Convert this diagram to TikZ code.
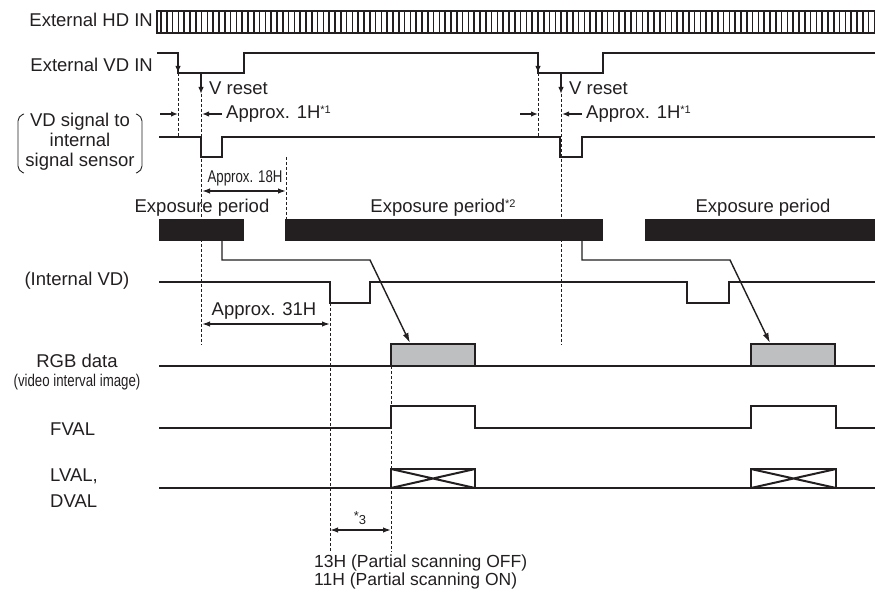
\documentclass[tikz,border=0pt]{standalone}
\usepackage{fontspec}
\setmainfont{Liberation Sans}
\newfontfamily\condfont[FakeStretch=0.78]{Liberation Sans}
\usetikzlibrary{arrows.meta}
\definecolor{ink}{HTML}{231F20}
\definecolor{boxgray}{HTML}{BEBFC1}
\begin{document}
\begin{tikzpicture}[x=1pt,y=-1pt,
  sig/.style={line width=2.6pt, draw=ink, line join=miter},
  guide/.style={draw=ink, line width=1pt, dash pattern=on 3pt off 2pt},
  dimarrow/.style={draw=ink, line width=1.5pt, {Latex[length=8pt,width=5.5pt]}-{Latex[length=8pt,width=5.5pt]}},
  onearrow/.style={draw=ink, line width=1.4pt, -{Latex[length=7pt,width=5.5pt]}},
  flow/.style={draw=ink, line width=1.4pt, -{Latex[length=10pt,width=6pt]}},
  lbl/.style={font=\fontsize{18.5}{21}\selectfont, inner sep=0pt, text=ink},
  cond/.style={font=\condfont\fontsize{17}{20}\selectfont, inner sep=0pt, text=ink},
  expbar/.style={fill=ink}
]
\useasboundingbox (0,0) rectangle (875,593);

% ---------- labels ----------
\node[lbl, anchor=east] (hdlbl) at (153,20) {External HD IN};
\node[lbl, anchor=east] (vdlbl) at (153,65) {External VD IN};
\node[lbl, align=center] (vdsig) at (80,142) {VD signal to\\[-1pt]internal\\[-1pt]signal sensor};
\node[lbl] (intvd) at (77,281) {(Internal VD)};
\node[lbl] (rgb) at (77,361) {RGB data};
\node[cond] (rgbsub) at (77,382) {(video interval image)};
\node[lbl, anchor=west] (fval) at (50,429) {FVAL};
\node[lbl, anchor=west] (lval) at (50,476) {LVAL,};
\node[lbl, anchor=west] (dval) at (50,501) {DVAL};

% brackets around VD signal label
\draw[ink, line width=0.9pt, rounded corners=5pt] (24,114) -- (18,116) -- (18,171) -- (24,173);
\draw[ink, line width=0.9pt, rounded corners=5pt] (136,114) -- (142,116) -- (142,171) -- (136,173);

% ---------- External HD IN comb ----------
\draw[ink, line width=2.4pt] (157,11) rectangle (880,33);
\foreach \i in {0,...,123} \draw[ink, line width=1.5pt] ({161+\i*5.8},11) -- ++(0,22);

% ---------- coordinates ----------
\coordinate (f1) at (178,73);  \coordinate (f2) at (538,73);
\coordinate (r1) at (201,73);  \coordinate (r2) at (561,73);
\coordinate (r1b) at (201,94); \coordinate (r2b) at (561,94);

% ---------- External VD IN ----------
\draw[sig] (157,53) -- (178,53) -- (178,73) -- (244,73) -- (244,53) -- (538,53) -- (538,73) -- (603,73) -- (603,53) -- (880,53);
\draw[onearrow] (178,58) -- (f1);
\draw[onearrow] (538,58) -- (f2);

% V reset
\draw[onearrow] (r1) -- (r1b);
\draw[onearrow] (r2) -- (r2b);
\node[lbl, anchor=west] (vr1) at (209,88) {V reset};
\node[lbl, anchor=west] (vr2) at (569,88) {V reset};

% Approx 1H
\coordinate (a1l) at (160,114); \coordinate (a1m) at (178,114);
\coordinate (a1r) at (222,114); \coordinate (a1n) at (202,114);
\draw[onearrow] (a1l) -- (a1m);
\draw[onearrow] (a1r) -- (a1n);
\node[lbl, anchor=west] (h1a) at (226,114) {Approx. 1H\raisebox{0.5ex}{\fontsize{11}{12}\selectfont *1}};
\coordinate (a2l) at (520,114); \coordinate (a2m) at (538,114);
\coordinate (a2r) at (582,114); \coordinate (a2n) at (562,114);
\draw[onearrow] (a2l) -- (a2m);
\draw[onearrow] (a2r) -- (a2n);
\node[lbl, anchor=west] (h1b) at (586,114) {Approx. 1H\raisebox{0.5ex}{\fontsize{11}{12}\selectfont *1}};

% ---------- VD signal to internal sensor ----------
\draw[sig] (159,137) -- (201,137) -- (201,157) -- (222,157) -- (222,137) -- (560,137) -- (560,157) -- (582,157) -- (582,137) -- (880,137);

% guides
\draw[guide] (f1) -- (178,137);
\draw[guide] (f2) -- (538,137);
\draw[guide] (r1b) -- (201,345);
\draw[guide] (r2b) -- (561,345);
\draw[guide] (286,157) -- (286,219);
\draw[guide] (330,303) -- (330,552);
\draw[guide] (391,366) -- (391,552);

% Approx 18H
\coordinate (e18l) at (202,191); \coordinate (e18r) at (286,191);
\draw[dimarrow] (e18l) -- (e18r);
\node[cond] (t18) at (245,178) {Approx. 18H};

% ---------- Exposure ----------
\node[lbl] (exp1) at (202,208) {Exposure period};
\node[lbl] (exp2) at (443,208) {Exposure period\raisebox{0.5ex}{\fontsize{11}{12}\selectfont *2}};
\node[lbl] (exp3) at (763,208) {Exposure period};
\fill[expbar] (159,219) rectangle (244,241);
\fill[expbar] (285,219) rectangle (603,241);
\fill[expbar] (645,219) rectangle (880,241);

% ---------- Internal VD ----------
\draw[sig] (159,282) -- (330,282) -- (330,303) -- (370,303) -- (370,282) -- (687,282) -- (687,303) -- (729,303) -- (729,282) -- (880,282);

% Approx 31H
\coordinate (e31l) at (202,324); \coordinate (e31r) at (330,324);
\draw[dimarrow] (e31l) -- (e31r);
\node[lbl] (t31) at (264,311) {Approx. 31H};

% ---------- RGB data ----------
\draw[sig, fill=boxgray] (391,366) rectangle (475,344);
\draw[sig, fill=boxgray] (751,366) rectangle (835,344);
\draw[sig] (159,366) -- (880,366);
\coordinate (g1) at (410,343); \coordinate (g2) at (770,343);

% exposure -> RGB connectors
\draw[flow] (222,241) -- (222,260) -- (370,260) -- (g1);
\draw[flow] (582,241) -- (582,260) -- (730,260) -- (g2);

% ---------- FVAL ----------
\draw[sig] (159,428) -- (391,428) -- (391,406) -- (475,406) -- (475,428) -- (751,428) -- (751,406) -- (836,406) -- (836,428) -- (880,428);

% ---------- LVAL/DVAL ----------
\draw[sig] (159,488) -- (880,488);
\draw[sig] (391,469) rectangle (475,488);
\draw[ink, line width=2pt] (391,469) -- (475,488) (391,488) -- (475,469);
\draw[sig] (751,469) rectangle (836,488);
\draw[ink, line width=2pt] (751,469) -- (836,488) (751,488) -- (836,469);

% *3
\coordinate (s3l) at (330,530); \coordinate (s3r) at (391,530);
\draw[dimarrow] (s3l) -- (s3r);
\node[inner sep=0pt, text=ink, font=\fontsize{13}{14}\selectfont] (t3) at (360,518) {*\raisebox{-0.5ex}{3}};

\node[lbl, anchor=west, font=\fontsize{17.5}{19}\selectfont] (n13) at (314,563) {13H (Partial scanning OFF)};
\node[lbl, anchor=west, font=\fontsize{17.5}{19}\selectfont] (n11) at (314,581) {11H (Partial scanning ON)};
\end{tikzpicture}
\end{document}
